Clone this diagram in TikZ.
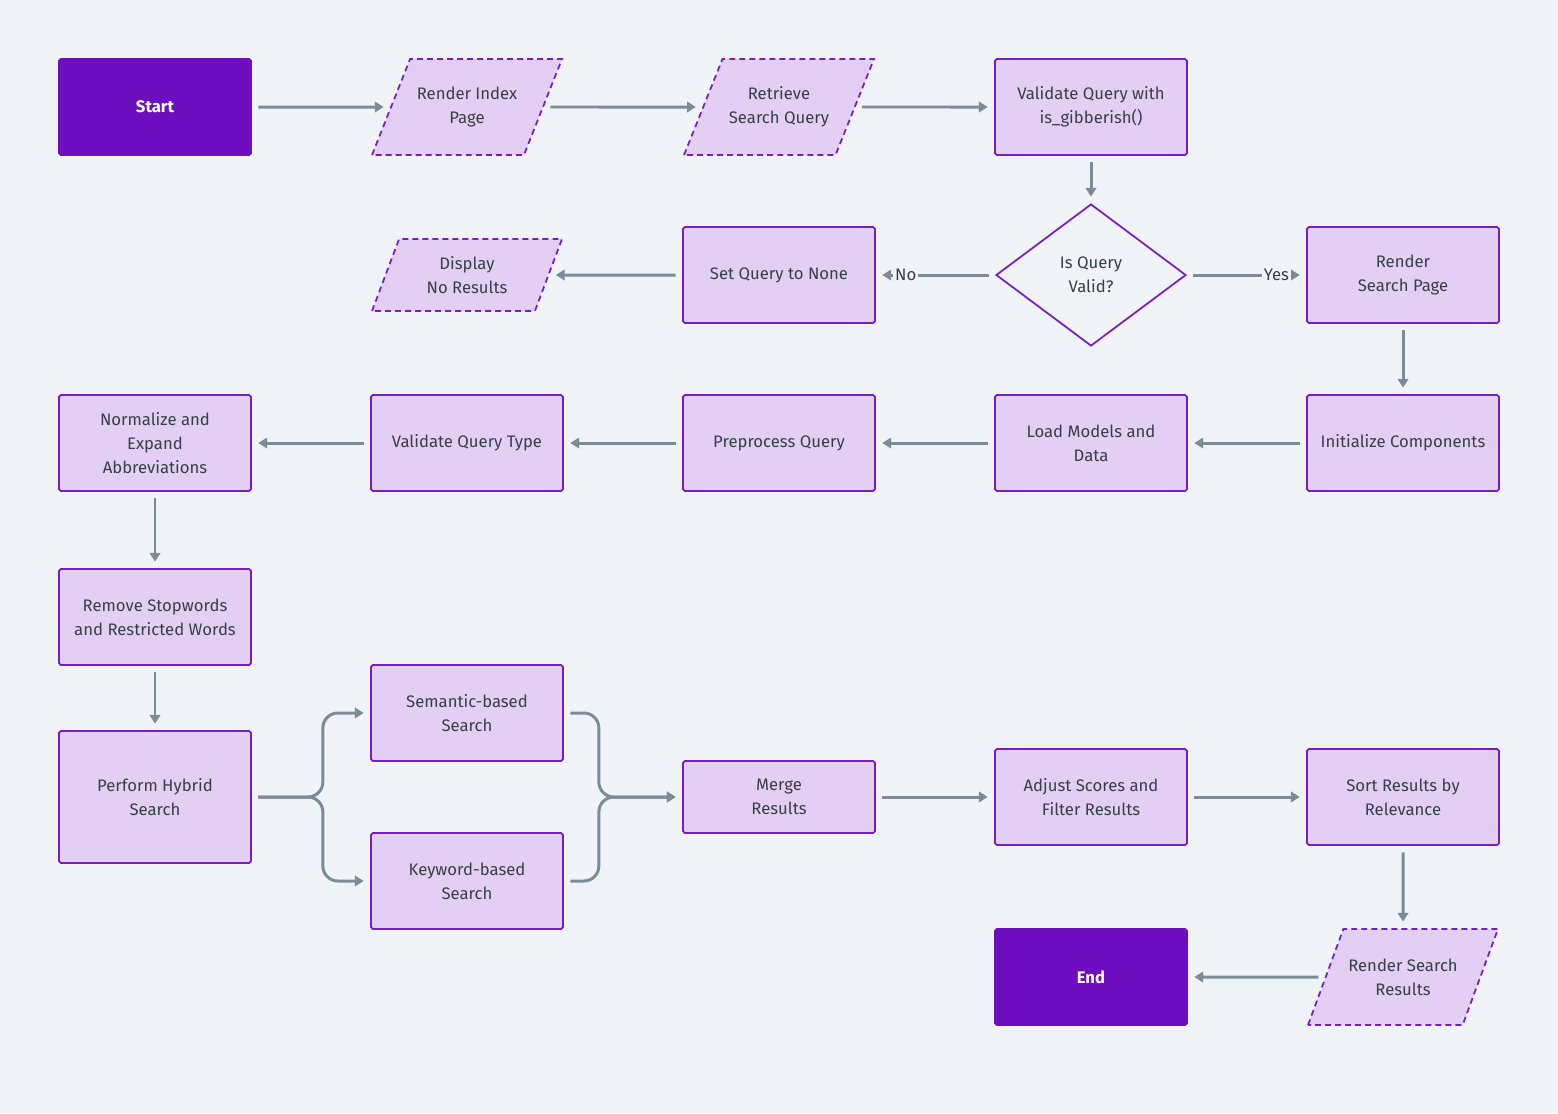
\documentclass[tikz,border=0pt]{standalone}
\usepackage{fontspec}
\setmainfont{Fira Sans}
\usetikzlibrary{shapes.geometric, arrows.meta, positioning}
\definecolor{bgcol}{HTML}{F0F4F8}
\definecolor{boxfill}{HTML}{E3CFF3}
\definecolor{boxline}{HTML}{7A1CC9}
\definecolor{termfill}{HTML}{6F0EC1}
\definecolor{flowgray}{HTML}{7B8B98}
\definecolor{txt}{HTML}{363F4A}

\begin{document}
\begin{tikzpicture}[x=0.02cm, y=-0.02cm,
    base/.style={font=\fontsize{9.5}{13.6}\selectfont, text=txt, align=center, line width=1pt, inner sep=2pt},
    process/.style={base, rectangle, draw=boxline, fill=boxfill, rounded corners=1pt, minimum width=3.84cm, minimum height=1.92cm},
    terminal/.style={process, fill=termfill, draw=termfill, text=white, font=\fontsize{9.5}{13.6}\selectfont\bfseries},
    io/.style={base, trapezium, trapezium left angle=51, trapezium right angle=129, trapezium stretches body=true, draw=boxline, fill=boxfill, dash pattern=on 3.4pt off 2.3pt, minimum width=3.8cm, minimum height=1.92cm},
    decision/.style={base, diamond, draw=boxline, fill=bgcol, minimum width=3.8cm, minimum height=2.84cm, inner sep=0pt},
    flow/.style={draw=flowgray, line width=1.7pt, -{Triangle[length=5pt, width=6pt]}, shorten <=0.13cm, shorten >=0.13cm},
    tag/.style={font=\fontsize{9.5}{11}\selectfont, text=txt, fill=bgcol, inner sep=1pt}
]
\useasboundingbox (0,0) rectangle (1558,1113);
\fill[bgcol] (0,0) rectangle (1558,1113);

% Row 1: start and query input
\node[terminal] (start) at (155,107) {Start};
\node[io] (renderidx) at (467,107) {Render Index\\Page};
\node[io] (retrieve) at (779,107) {Retrieve\\Search Query};
\node[process] (validate) at (1091,107) {Validate Query with\\is\_gibberish()};

% Row 2: decision
\node[decision] (valid) at (1091,275) {Is Query\\Valid?};
\node[process] (setnone) at (779,275) {Set Query to None};
\node[io, trapezium left angle=58.5, trapezium right angle=121.5, minimum height=1.44cm] (noresults) at (467,275) {Display\\No Results};
\node[process] (rendersp) at (1403,275) {Render\\Search Page};

% Row 3: preparation, right to left
\node[process] (init) at (1403,443) {Initialize Components};
\node[process] (load) at (1091,443) {Load Models and\\Data};
\node[process] (preproc) at (779,443) {Preprocess Query};
\node[process] (qtype) at (467,443) {Validate Query Type};
\node[process] (normalize) at (155,443) {Normalize and\\Expand\\Abbreviations};

% Left column
\node[process] (stopwords) at (155,617) {Remove Stopwords\\and Restricted Words};
\node[process, minimum height=2.64cm] (hybrid) at (155,797) {Perform Hybrid\\Search};

% Search branches
\node[process] (semantic) at (467,713) {Semantic-based\\Search};
\node[process] (keyword) at (467,881) {Keyword-based\\Search};
\node[process, minimum height=1.44cm] (merge) at (779,797) {Merge\\Results};
\node[process] (adjust) at (1091,797) {Adjust Scores and\\Filter Results};
\node[process] (sort) at (1403,797) {Sort Results by\\Relevance};

% Output
\node[io] (renderres) at (1403,977) {Render Search\\Results};
\node[terminal] (end) at (1091,977) {End};

% Main flow
\draw[flow] (start) -- (renderidx);
\draw[flow] (renderidx) -- (retrieve);
\draw[flow] (retrieve) -- (validate);
\draw[flow] (validate) -- (valid);
\draw[flow] (valid) -- (setnone) node[tag, pos=0.75] {No};
\draw[flow] (valid) -- (rendersp) node[tag, pos=0.75] {Yes};
\draw[flow] (setnone) -- (noresults);
\draw[flow] (rendersp) -- (init);
\draw[flow] (init) -- (load);
\draw[flow] (load) -- (preproc);
\draw[flow] (preproc) -- (qtype);
\draw[flow] (qtype) -- (normalize);
\draw[flow] (normalize) -- (stopwords);
\draw[flow] (stopwords) -- (hybrid);

% Hybrid split and merge
\draw[flow, rounded corners=0.3cm] (hybrid.east) -- ++(71,0) |- (semantic.west);
\draw[flow, rounded corners=0.3cm] (hybrid.east) -- ++(71,0) |- (keyword.west);
\draw[flow, rounded corners=0.3cm] (semantic.east) -- ++(35,0) |- (merge.west);
\draw[flow, rounded corners=0.3cm] (keyword.east) -- ++(35,0) |- (merge.west);

\draw[flow] (merge) -- (adjust);
\draw[flow] (adjust) -- (sort);
\draw[flow] (sort) -- (renderres);
\draw[flow] (renderres) -- (end);
\end{tikzpicture}
\end{document}
